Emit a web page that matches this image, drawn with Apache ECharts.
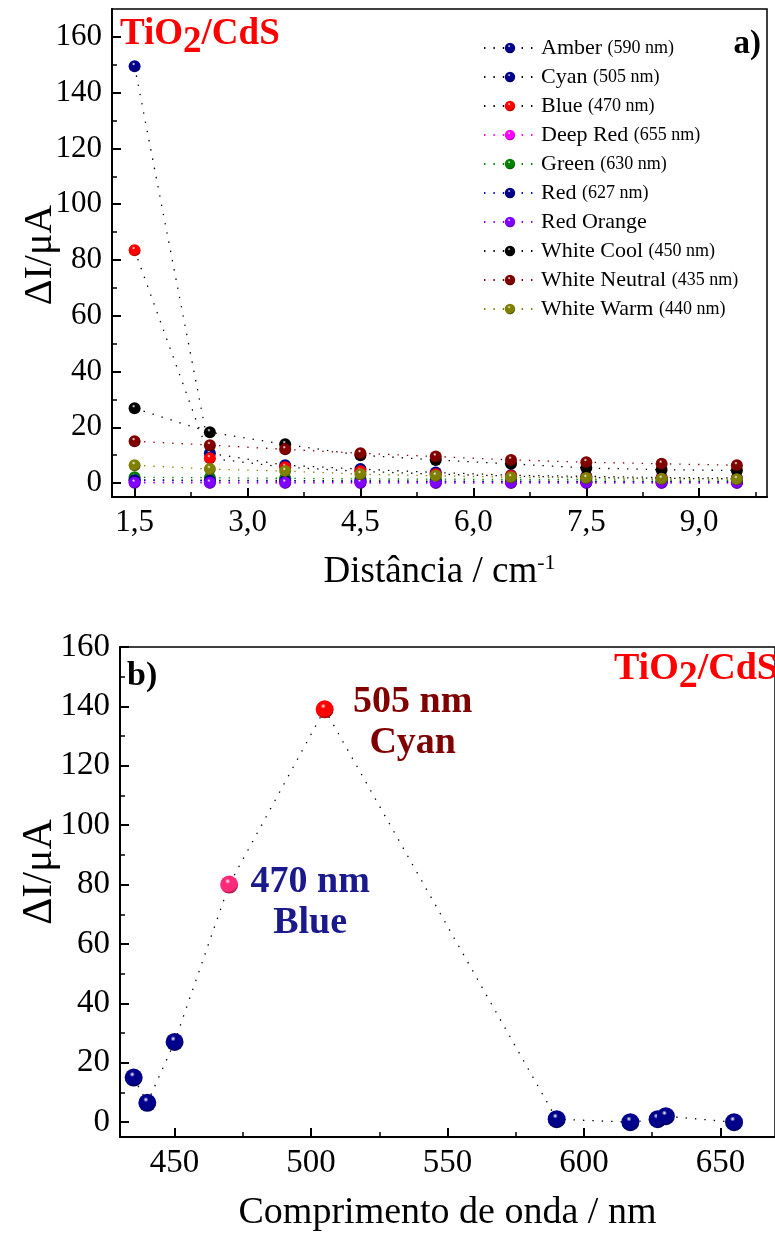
<!DOCTYPE html>
<html>
<head>
<meta charset="utf-8">
<script src="https://cdn.jsdelivr.net/npm/echarts@6/dist/echarts.min.js"></script>
<style>
  html, body { margin: 0; padding: 0; background: #ffffff; }
  #chart { width: 775px; height: 1236px; }
</style>
</head>
<body>
<div id="chart"></div>
<script>
// ---- panel a): photocurrent vs. distance for each LED ----
const distances = [1.5, 2.5, 3.5, 4.5, 5.5, 6.5, 7.5, 8.5, 9.5];
const distanceTicks = [1.5, 3.0, 4.5, 6.0, 7.5, 9.0];
const distanceMinorTicks = [2.25, 3.75, 5.25, 6.75, 8.25, 9.75];
const currentTicks = [0, 20, 40, 60, 80, 100, 120, 140, 160];
const currentMinorTicks = [10, 30, 50, 70, 90, 110, 130, 150];

const ledNames = ['Amber', 'Cyan', 'Blue', 'Deep Red', 'Green', 'Red', 'Red Orange', 'White Cool', 'White Neutral', 'White Warm'];
const ledWavelengths = ['590 nm', '505 nm', '470 nm', '655 nm', '630 nm', '627 nm', '', '450 nm', '435 nm', '440 nm'];

const amber        = [1.2, 1.0, 0.9, 0.8, 0.7, 0.7, 0.6, 0.6, 0.5];
const cyan         = [149.5, 10.7, 6.4, 5.0, 3.8, 2.8, 2.4, 2.0, 1.8];
const blue         = [83.5, 8.9, 5.7, 4.2, 3.2, 2.5, 2.0, 1.7, 1.5];
const deepRed      = [0.3, 0.2, 0.2, 0.1, 0.1, 0.1, 0.1, 0.1, 0.1];
const green        = [2.1, 1.9, 1.7, 1.5, 1.4, 1.3, 1.2, 1.1, 1.0];
const red          = [1.0, 0.8, 0.7, 0.6, 0.5, 0.5, 0.4, 0.4, 0.4];
const redOrange    = [0.1, 0.1, 0.1, 0.1, 0.1, 0.1, 0.1, 0.1, 0.1];
const whiteCool    = [26.8, 18.2, 13.9, 10.0, 8.3, 6.9, 5.4, 4.8, 4.5];
const whiteNeutral = [15.0, 13.6, 12.1, 10.7, 9.5, 8.3, 7.5, 6.9, 6.4];
const whiteWarm    = [6.4, 5.0, 4.3, 3.2, 2.6, 2.1, 1.8, 1.5, 1.4];

const ledSeriesValues = [amber, cyan, blue, deepRed, green, red, redOrange, whiteCool, whiteNeutral, whiteWarm];
const ledMarkerColors = ['#00008b', '#00008b', '#ff0000', '#ff00ff', '#008000', '#00008b', '#8000ff', '#000000', '#800000', '#808000'];
const ledLineColors   = ['#000000', '#000000', '#000000', '#ff00ff', '#008000', '#0000cc', '#8000ff', '#000000', '#800000', '#808000'];

// ---- panel b): photocurrent vs. LED wavelength ----
const wavelengths = [435, 440, 450, 470, 505, 590, 617, 627, 630, 655];
const peakCurrents = [15, 6.5, 27, 80, 139, 1, 0, 1, 2, 0];
const wavelengthNames = ['White Neutral', 'White Warm', 'White Cool', 'Blue', 'Cyan', 'Amber', 'Red Orange', 'Red', 'Green', 'Deep Red'];
const wavelengthTicks = [450, 500, 550, 600, 650];
const wavelengthMinorTicks = [475, 525, 575, 625];

const SERIF = 'Liberation Serif, Times New Roman, serif';

function shade(hex, k) {
  const n = parseInt(hex.slice(1), 16);
  const r = Math.round(((n >> 16) & 255) * k);
  const g = Math.round(((n >> 8) & 255) * k);
  const b = Math.round((n & 255) * k);
  return 'rgb(' + r + ',' + g + ',' + b + ')';
}
// glossy ball fill
function sphere(hex) {
  return new echarts.graphic.RadialGradient(0.42, 0.32, 0.72, [
    { offset: 0, color: '#ffffff' },
    { offset: 0.2, color: hex },
    { offset: 0.75, color: hex },
    { offset: 1, color: shade(hex, 0.45) }
  ]);
}

const dotted = [1.4, 8];

const topSeries = ledNames.map((name, i) => ({
  name: name,
  type: 'line',
  xAxisIndex: 0,
  yAxisIndex: 0,
  data: distances.map((d, j) => [d, ledSeriesValues[i][j]]),
  symbol: 'circle',
  symbolSize: 12,
  z: 2 + i,
  lineStyle: { color: ledLineColors[i], width: 1.3, type: dotted },
  itemStyle: { color: sphere(ledMarkerColors[i]) },
  emphasis: { disabled: true },
  animation: false
}));

const labelledPoints = { 'Cyan': '#800000', 'Blue': '#1a1a8c' };
const labelOffsets = { 'Cyan': [88, 13], 'Blue': [81, 18] };
const ballColorByName = { 'Cyan': '#ff0000', 'Blue': '#ff2a7a' };

const bottomData = wavelengths.map((wl, i) => {
  const name = wavelengthNames[i];
  const item = { value: [wl, peakCurrents[i]], name: name };
  if (ballColorByName[name]) {
    item.itemStyle = { color: sphere(ballColorByName[name]) };
  }
  if (labelledPoints[name]) {
    item.label = {
      show: true,
      position: 'inside',
      offset: labelOffsets[name],
      align: 'center',
      formatter: '{v|' + wl + ' nm}\n{v|' + name + '}',
      rich: {
        v: {
          fontFamily: SERIF, fontWeight: 'bold', fontSize: 38,
          color: labelledPoints[name], lineHeight: 41, align: 'center'
        }
      }
    };
  }
  return item;
});

function valueAxis(grid, min, max, ticks, fmt, fontSize, extra) {
  return Object.assign({
    type: 'value',
    gridIndex: grid,
    min: min,
    max: max,
    axisLine: { show: true, onZero: false, lineStyle: { color: '#000', width: 2 } },
    axisTick: { show: true, inside: true, length: 9, customValues: ticks, lineStyle: { color: '#000', width: 2 } },
    axisLabel: {
      show: true, customValues: ticks, formatter: fmt,
      fontFamily: SERIF, fontSize: fontSize, color: '#000', margin: 10
    },
    splitLine: { show: false }
  }, extra || {});
}
function minorAxis(grid, min, max, ticks, extra) {
  return Object.assign({
    type: 'value',
    gridIndex: grid,
    min: min,
    max: max,
    axisLine: { show: false, onZero: false },
    axisTick: { show: true, inside: true, length: 5, customValues: ticks, lineStyle: { color: '#000', width: 1.5 } },
    axisLabel: { show: false },
    splitLine: { show: false }
  }, extra || {});
}

const commaFmt = v => v.toFixed(1).replace('.', ',');
const intFmt = v => String(v);

// "TiO2/CdS" with a lowered subscript, built from separate text pieces
const measureCtx = document.createElement('canvas').getContext('2d');
function textWidth(str, size) {
  measureCtx.font = 'bold ' + size + 'px ' + SERIF;
  return measureCtx.measureText(str).width;
}
function formulaLabel(x, top, size) {
  const parts = [['TiO', 0], ['2', Math.round(size * 0.22)], ['/CdS', 0]];
  const children = [];
  let cx = x;
  parts.forEach(([t, drop]) => {
    children.push({
      type: 'text', x: cx, y: top + drop, z: 100,
      style: { text: t, fontFamily: SERIF, fontWeight: 'bold', fontSize: size, fill: '#ff0000', verticalAlign: 'top' }
    });
    cx += textWidth(t, size);
  });
  return { type: 'group', children: children };
}
function formulaWidth(size) {
  return textWidth('TiO', size) + textWidth('2', size) + textWidth('/CdS', size);
}

const option = {
  backgroundColor: '#ffffff',
  animation: false,
  grid: [
    { left: 112, top: 9, width: 655, height: 488, show: true, borderColor: '#000', borderWidth: 1.5, backgroundColor: 'transparent' },
    { left: 120, top: 647, width: 662, height: 490, show: true, borderColor: '#000', borderWidth: 1.5, backgroundColor: 'transparent' }
  ],
  xAxis: [
    valueAxis(0, 1.2, 9.9, distanceTicks, commaFmt, 31, {
      position: 'bottom',
      name: 'Distância / cm{sup|-1}',
      nameLocation: 'middle',
      nameGap: 55,
      nameTextStyle: {
        fontFamily: SERIF, fontSize: 37, color: '#000', lineHeight: 40,
        rich: { sup: { fontFamily: SERIF, fontSize: 22, color: '#000', verticalAlign: 'top', lineHeight: 22 } }
      }
    }),
    minorAxis(0, 1.2, 9.9, distanceMinorTicks, { position: 'bottom' }),
    valueAxis(1, 430, 670, wavelengthTicks, intFmt, 33, {
      position: 'bottom',
      name: 'Comprimento de onda / nm',
      nameLocation: 'middle',
      nameGap: 57,
      nameTextStyle: { fontFamily: SERIF, fontSize: 38, color: '#000' }
    }),
    minorAxis(1, 430, 670, wavelengthMinorTicks, { position: 'bottom' })
  ],
  yAxis: [
    valueAxis(0, -5, 170, currentTicks, intFmt, 31, { position: 'left' }),
    minorAxis(0, -5, 170, currentMinorTicks, { position: 'left' }),
    valueAxis(1, -5, 160, currentTicks, intFmt, 33, { position: 'left' }),
    minorAxis(1, -5, 160, currentMinorTicks, { position: 'left' })
  ],
  legend: {
    orient: 'vertical',
    left: 478,
    top: 32,
    itemWidth: 52,
    itemHeight: 13,
    itemGap: 7,
    data: ledNames,
    formatter: name => {
      const nm = ledWavelengths[ledNames.indexOf(name)];
      return nm ? name + ' {n|(' + nm + ')}' : name;
    },
    textStyle: {
      fontFamily: SERIF, fontSize: 22, color: '#000', lineHeight: 22,
      rich: { n: { fontFamily: SERIF, fontSize: 18, color: '#000' } }
    },
    selectedMode: false
  },
  series: topSeries.concat([{
    name: 'wavelength',
    type: 'line',
    xAxisIndex: 2,
    yAxisIndex: 2,
    data: bottomData,
    symbol: 'circle',
    symbolSize: 18,
    lineStyle: { color: '#000', width: 1.3, type: dotted },
    itemStyle: { color: sphere('#00008b') },
    emphasis: { disabled: true },
    animation: false
  }]),
  graphic: [
    formulaLabel(120, 16, 37),
    formulaLabel(775 - formulaWidth(38) + 3, 650, 38),
    {
      type: 'text', x: 40, y: 255, rotation: Math.PI / 2, z: 100,
      style: { text: 'ΔI/μA', fontFamily: SERIF, fontSize: 40, fill: '#000', align: 'center', verticalAlign: 'middle' }
    },
    {
      type: 'text', x: 40, y: 872, rotation: Math.PI / 2, z: 100,
      style: { text: 'ΔI/μA', fontFamily: SERIF, fontSize: 42, fill: '#000', align: 'center', verticalAlign: 'middle' }
    },
    {
      type: 'text', right: 14, top: 28, z: 100,
      style: { text: 'a)', fontFamily: SERIF, fontWeight: 'bold', fontSize: 33, fill: '#000' }
    },
    {
      type: 'text', left: 127, top: 659, z: 100,
      style: { text: 'b)', fontFamily: SERIF, fontWeight: 'bold', fontSize: 34, fill: '#000' }
    }
  ]
};

const chart = echarts.init(document.getElementById('chart'), null, { renderer: 'canvas' });
chart.setOption(option);
</script>
</body>
</html>
